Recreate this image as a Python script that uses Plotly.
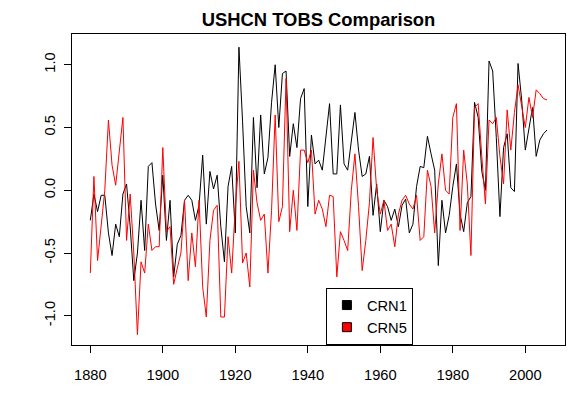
import plotly.graph_objects as go

years = list(range(1880, 2007))

crn1 = [
    -0.24, -0.03, -0.17, -0.04, -0.04, -0.34, -0.52, -0.27, -0.37, -0.03,  # 1880s
    0.05, -0.29, -0.72, -0.50, -0.08, -0.48, 0.19, 0.22, -0.11, -0.32,     # 1890s
    0.12, -0.40, -0.08, -0.69, -0.43, -0.36, -0.08, -0.04, -0.08, -0.24,   # 1900s
    -0.12, 0.28, -0.27, 0.15, 0.01, 0.12, -0.29, -0.57, 0.03, 0.19,        # 1910s
    -0.34, 1.14, 0.55, -0.13, -0.34, 0.58, 0.02, 0.60, 0.13, 0.26,         # 1920s
    0.70, 1.00, 0.50, 0.93, 0.95, 0.27, 0.53, 0.34, 0.73, 0.81,            # 1930s
    -0.13, 0.44, 0.21, 0.24, 0.16, 0.40, 0.69, 0.13, 0.13, 0.68,           # 1940s
    0.21, 0.16, 0.40, 0.62, 0.32, 0.11, 0.13, 0.27, -0.20, 0.05,           # 1950s
    -0.33, -0.08, -0.13, -0.24, -0.15, -0.29, -0.12, -0.07, -0.34, -0.27,  # 1960s
    0.03, 0.19, 0.18, 0.43, 0.29, 0.16, -0.60, -0.08, -0.34, -0.20,        # 1970s
    0.03, 0.21, -0.19, -0.33, -0.10, -0.05, 0.70, 0.58, 0.15, 0.00,        # 1980s
    1.03, 0.95, 0.42, -0.21, 0.34, 0.45, 0.02, -0.01, 1.01, 0.72,          # 1990s
    0.32, 0.50, 0.66, 0.27, 0.40, 0.45, 0.48,                              # 2000s
]

crn5 = [
    -0.66, 0.11, -0.56, -0.29, 0.00, 0.56, 0.20, 0.04, 0.32, 0.58,         # 1880s
    -0.40, -0.03, -0.50, -1.15, -0.57, -0.66, -0.27, -0.48, -0.45, -0.45,  # 1890s
    0.34, -0.33, -0.29, -0.75, -0.62, -0.50, -0.08, -0.72, -0.34, -0.61,   # 1900s
    -0.08, -0.77, -1.01, -0.40, -0.16, -0.12, -1.01, -1.01, -0.37, -0.66,  # 1910s
    -0.13, 0.23, -0.58, -0.50, -0.77, 0.16, -0.10, -0.24, -0.19, -0.66,    # 1920s
    -0.16, 0.60, -0.25, -0.13, 0.89, -0.33, 0.00, -0.32, 0.32, 0.32,       # 1930s
    0.22, 0.32, -0.19, -0.08, -0.15, -0.29, -0.04, -0.05, -0.69, -0.33,    # 1940s
    -0.40, -0.48, 0.00, 0.29, -0.13, -0.64, -0.40, -0.10, 0.42, 0.00,      # 1950s
    -0.19, -0.08, -0.32, -0.27, -0.45, -0.19, -0.08, -0.04, -0.11, -0.15,  # 1960s
    -0.04, -0.40, -0.37, 0.16, 0.03, -0.34, 0.05, 0.29, 0.00, -0.03,       # 1970s
    0.58, 0.69, -0.32, 0.32, 0.05, -0.52, 0.66, 0.69, 0.27, -0.11,         # 1980s
    0.56, 0.53, 0.58, 0.27, 0.05, 0.64, 0.32, 0.62, 0.84, 0.66,            # 1990s
    0.50, 0.74, 0.58, 0.80, 0.77, 0.73, 0.72,                              # 2000s
]

series_names = ["CRN1", "CRN5"]
series_colors = ["#000000", "#ff0000"]

x_tick_vals = [1880, 1900, 1920, 1940, 1960, 1980, 2000]
y_tick_vals = [-1.0, -0.5, 0.0, 0.5, 1.0]
y_tick_text = ["-1.0", "-0.5", "0.0", "0.5", "1.0"]

title_text = "USHCN TOBS Comparison"

FONT = "Liberation Sans, Arial, sans-serif"

# the page body adds an 8px margin, so the figure is 8px smaller than the window
W, H = 575, 390

fig = go.Figure()
for name, color, vals in zip(series_names, series_colors, [crn1, crn5]):
    fig.add_trace(go.Scatter(
        x=years, y=vals, mode="lines", name=name,
        line=dict(color=color, width=1), showlegend=False,
    ))

# legend entries drawn as filled squares (like R's legend fill)
for name, color in zip(series_names, series_colors):
    fig.add_trace(go.Scatter(
        x=[None], y=[None], mode="markers", name=name,
        marker=dict(symbol="square", size=9, color=color,
                    line=dict(color="#000000", width=1)),
        showlegend=True,
    ))

fig.update_layout(
    width=W, height=H,
    margin=dict(l=64, r=18, t=26, b=53),
    paper_bgcolor="white", plot_bgcolor="white",
    font=dict(family=FONT, size=14.7, color="black"),
    title=dict(text="<b>" + title_text + "</b>", x=0.5, xref="paper",
               xanchor="center", y=1 - 12 / H, yref="container",
               yanchor="middle", font=dict(family=FONT, size=18.4, color="black")),
    showlegend=True,
    legend=dict(x=0.515, y=0, xanchor="left", yanchor="bottom",
                bordercolor="black", borderwidth=1, bgcolor="white",
                font=dict(family=FONT, size=14.7, color="black"),
                itemclick=False, itemdoubleclick=False),
)

fig.update_xaxes(
    range=[1874.95, 2010.95], tickvals=x_tick_vals,
    ticks="outside", ticklen=7, tickwidth=1, tickcolor="black",
    showline=True, linecolor="black", linewidth=1, mirror=True,
    showgrid=False, zeroline=False, ticklabelstandoff=9,
    tickfont=dict(family=FONT, size=14.7, color="black"),
)
fig.update_yaxes(
    range=[-1.233, 1.245], tickvals=y_tick_vals, ticktext=y_tick_text,
    tickangle=-90,
    ticks="outside", ticklen=7, tickwidth=1, tickcolor="black",
    showline=True, linecolor="black", linewidth=1, mirror=True,
    showgrid=False, zeroline=False, ticklabelstandoff=3,
    tickfont=dict(family=FONT, size=14.7, color="black"),
)

fig.write_html("out.html")
